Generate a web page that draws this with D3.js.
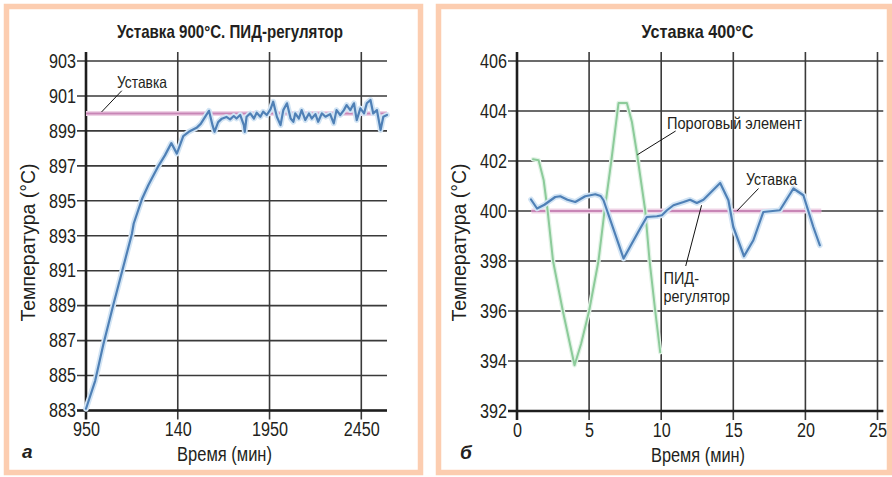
<!DOCTYPE html>
<html>
<head>
<meta charset="utf-8">
<script src="https://cdn.jsdelivr.net/npm/d3@7"></script>
<style>
  html, body { margin: 0; padding: 0; background: #ffffff; }
  svg { display: block; }
  text { font-family: "Liberation Sans", Arial, sans-serif; fill: #231f20; }
</style>
</head>
<body>
<svg id="chart" width="892" height="477"></svg>
<script>
// ---------- DATA ----------
// Panel a: PID controller, setpoint 900 °C
const titleA = "Уставка 900°С. ПИД-регулятор";
const xTickValuesA = [0, 1, 2, 3];
const xTickLabelsA = ["950", "140", "1950", "2450"];
const yTicksA = [883, 885, 887, 889, 891, 893, 895, 897, 899, 901, 903];
const setpointA = 900;
const setpointSpanA = [0, 3.28];
const pidA_x = [0.00, 0.10, 0.19, 0.30, 0.39, 0.50, 0.52, 0.61, 0.68, 0.79, 0.86, 0.93, 0.99, 1.06, 1.12, 1.21, 1.25, 1.31, 1.34, 1.38, 1.40, 1.44, 1.48, 1.53, 1.57, 1.61, 1.64, 1.68, 1.72, 1.73, 1.75, 1.79, 1.83, 1.86, 1.90, 1.93, 1.97, 2.01, 2.04, 2.08, 2.12, 2.15, 2.19, 2.23, 2.26, 2.28, 2.32, 2.35, 2.39, 2.43, 2.46, 2.50, 2.53, 2.57, 2.61, 2.66, 2.70, 2.73, 2.77, 2.81, 2.84, 2.88, 2.92, 2.95, 2.99, 3.03, 3.06, 3.10, 3.13, 3.17, 3.21, 3.24, 3.28];
const pidA_y = [883.1, 884.7, 886.8, 889.1, 890.9, 893.1, 893.7, 895.1, 895.9, 897.0, 897.6, 898.3, 897.7, 898.7, 898.95, 899.2, 899.4, 899.9, 900.15, 899.3, 898.95, 899.5, 899.7, 899.8, 899.66, 899.85, 899.71, 899.91, 899.33, 898.95, 899.81, 900.0, 899.71, 900.04, 899.81, 900.1, 899.91, 900.23, 900.67, 899.81, 899.33, 900.19, 900.58, 899.71, 899.52, 900.0, 899.71, 900.19, 899.62, 900.0, 899.71, 899.96, 899.52, 900.0, 899.81, 899.96, 899.43, 900.19, 899.91, 900.19, 900.48, 900.19, 900.58, 899.62, 900.29, 900.0, 900.58, 900.77, 900.0, 900.19, 899.05, 899.81, 899.91];

// Panel b: setpoint 400 °C
const titleB = "Уставка 400°С";
const xTicksB = [0, 5, 10, 15, 20, 25];
const yTicksB = [392, 394, 396, 398, 400, 402, 404, 406];
const setpointB = 400;
const setpointSpanB = [1.0, 21.1];
const thresh_t = [1.11, 1.50, 1.85, 2.12, 2.50, 3.18, 3.99, 4.45, 5.00, 5.65, 6.07, 6.54, 7.04, 7.62, 7.97, 8.32, 8.89, 9.19, 9.58, 9.93];
const thresh_T = [402.07, 402.03, 401.23, 400.03, 398.0, 396.0, 393.83, 394.7, 396.0, 398.0, 400.0, 402.0, 404.32, 404.32, 403.56, 402.3, 400.03, 398.03, 396.03, 394.35];
const pidB_t = [0.97, 1.39, 1.90, 2.65, 3.00, 3.50, 4.04, 4.73, 5.43, 5.80, 6.00, 7.39, 8.54, 9.00, 9.70, 10.05, 10.40, 10.85, 11.55, 12.00, 12.47, 12.93, 14.09, 14.66, 15.00, 15.74, 16.39, 17.08, 18.23, 19.17, 19.86, 20.55, 21.00];
const pidB_T = [400.46, 400.10, 400.25, 400.56, 400.59, 400.45, 400.36, 400.59, 400.67, 400.60, 400.43, 398.10, 399.30, 399.76, 399.79, 399.83, 400.03, 400.23, 400.36, 400.45, 400.32, 400.45, 401.12, 400.43, 399.36, 398.19, 398.83, 399.96, 400.03, 400.90, 400.63, 399.36, 398.63];

const yTitle = "Температура (°С)";
const xTitle = "Время (мин)";
const annSetpoint = "Уставка";
const annThreshold = "Пороговый элемент";
const annPid = ["ПИД-", "регулятор"];
const panelLetters = ["а", "б"];

// ---------- STYLE ----------
const C = {
  frame: "#fccdb0", grid: "#3a3a3a", axis: "#1e1e1e",
  blue: "#4f80b6", blueHalo: "#d2e4f4",
  green: "#8ccb9a", greenHalo: "#e2f3e6",
  pink: "#c886b6", pinkHalo: "#efd3e6", text: "#231f20"
};

const svg = d3.select("#chart");

// condensed-looking text: glyphs squeezed to a given width
function txt(g, o) {
  const t = g.append("text")
    .attr("x", o.x).attr("y", o.y)
    .attr("font-size", o.size)
    .attr("text-anchor", o.anchor || "start")
    .attr("fill", C.text)
    .text(o.s);
  if (o.weight) t.attr("font-weight", o.weight);
  if (o.style) t.attr("font-style", o.style);
  if (o.len) t.attr("textLength", o.len).attr("lengthAdjust", "spacingAndGlyphs");
  if (o.rotate) t.attr("transform", `rotate(${o.rotate},${o.x},${o.y})`);
  return t;
}

// panel frames
svg.append("rect").attr("x", 6.5).attr("y", 6.5).attr("width", 414).attr("height", 466)
  .attr("fill", "#fff").attr("stroke", C.frame).attr("stroke-width", 5.5);
svg.append("rect").attr("x", 438.5).attr("y", 6.5).attr("width", 451).attr("height", 466)
  .attr("fill", "#fff").attr("stroke", C.frame).attr("stroke-width", 5.5);

function drawLine(g, xs, ys, x, y, color, halo, w, hw) {
  const pts = xs.map((v, i) => [v, ys[i]]);
  const line = d3.line().x(d => x(d[0])).y(d => y(d[1]));
  g.append("path").attr("d", line(pts)).attr("fill", "none")
    .attr("stroke", halo).attr("stroke-width", w + hw).attr("stroke-linejoin", "round").attr("stroke-linecap", "round");
  g.append("path").attr("d", line(pts)).attr("fill", "none")
    .attr("stroke", color).attr("stroke-width", w).attr("stroke-linejoin", "round").attr("stroke-linecap", "round");
}

function panel(opts) {
  const { x, y, xTickVals, xTickFmt, yTickVals, gridRight, topY, bottomTick } = opts;
  const g = svg.append("g");
  const x0 = x.range()[0];
  const y0 = y.range()[0];
  // horizontal grid
  g.selectAll(".hg").data(yTickVals).join("line")
    .attr("x1", x0 - 9).attr("x2", gridRight)
    .attr("y1", d => y(d)).attr("y2", d => y(d))
    .attr("stroke", C.grid).attr("stroke-width", 1.6);
  // vertical grid
  g.selectAll(".vg").data(xTickVals.slice(1)).join("line")
    .attr("x1", d => x(d)).attr("x2", d => x(d))
    .attr("y1", topY).attr("y2", y0 + bottomTick)
    .attr("stroke", C.grid).attr("stroke-width", 1.6);
  // axes lines
  g.append("line").attr("x1", x0).attr("x2", x0).attr("y1", topY).attr("y2", y0 + bottomTick)
    .attr("stroke", C.axis).attr("stroke-width", 2.6);
  g.append("line").attr("x1", x0 - 9).attr("x2", gridRight).attr("y1", y0).attr("y2", y0)
    .attr("stroke", C.axis).attr("stroke-width", 2.6);
  // tick labels through d3 axes
  const ax = g.append("g").attr("transform", `translate(0,${y0 + 10})`)
    .call(d3.axisBottom(x).tickValues(xTickVals).tickFormat(xTickFmt).tickSize(0).tickPadding(2));
  const ay = g.append("g").attr("transform", `translate(${x0 - 10},0)`)
    .call(d3.axisLeft(y).tickValues(yTickVals).tickSize(0).tickPadding(0));
  [ax, ay].forEach(a => {
    a.select(".domain").remove();
    a.selectAll("text").attr("font-size", 19.5).attr("fill", C.text)
      .style("font-family", '"Liberation Sans", Arial, sans-serif')
      .attr("textLength", function () { return this.textContent.length * 9; })
      .attr("lengthAdjust", "spacingAndGlyphs");
  });
  return g;
}

// ----- Panel a -----
const xA = d3.scaleLinear().domain([0, 3.28]).range([86, 387]);
const yA = d3.scaleLinear().domain([883, 903]).range([410.5, 61]);
const gA = panel({ x: xA, y: yA, xTickVals: xTickValuesA, xTickFmt: (d, i) => xTickLabelsA[i],
  yTickVals: yTicksA, gridRight: 387, topY: 52, bottomTick: 9 });
// setpoint
gA.append("line").attr("x1", xA(setpointSpanA[0])).attr("x2", xA(setpointSpanA[1]))
  .attr("y1", yA(setpointA)).attr("y2", yA(setpointA))
  .attr("stroke", C.pinkHalo).attr("stroke-width", 5);
gA.append("line").attr("x1", xA(setpointSpanA[0])).attr("x2", xA(setpointSpanA[1]))
  .attr("y1", yA(setpointA)).attr("y2", yA(setpointA))
  .attr("stroke", C.pink).attr("stroke-width", 2);
drawLine(gA, pidA_x, pidA_y, xA, yA, C.blue, C.blueHalo, 2.2, 3.5);
// annotation
gA.append("line").attr("x1", xA(0.17)).attr("y1", yA(900) - 1.5).attr("x2", xA(0.39)).attr("y2", yA(901.3))
  .attr("stroke", "#111").attr("stroke-width", 1);
txt(gA, { x: 117, y: 87.5, s: annSetpoint, size: 16.5, len: 50 });
txt(gA, { x: 230, y: 37.5, s: titleA, size: 19, weight: "bold", anchor: "middle", len: 226 });
txt(gA, { x: 224.5, y: 461, s: xTitle, size: 20, anchor: "middle", len: 95 });
txt(gA, { x: 35, y: 242.5, s: yTitle, size: 19.5, anchor: "middle", len: 158, rotate: -90 });
txt(gA, { x: 22, y: 458, s: panelLetters[0], size: 19, weight: "bold", style: "italic" });

// ----- Panel b -----
const xB = d3.scaleLinear().domain([0, 25]).range([517, 877.5]);
const yB = d3.scaleLinear().domain([392, 406]).range([411, 61]);
const gB = panel({ x: xB, y: yB, xTickVals: xTicksB, xTickFmt: d3.format("d"),
  yTickVals: yTicksB, gridRight: xB(25.4), topY: 52, bottomTick: 9 });
gB.append("line").attr("x1", xB(setpointSpanB[0])).attr("x2", xB(setpointSpanB[1]))
  .attr("y1", yB(setpointB)).attr("y2", yB(setpointB))
  .attr("stroke", C.pinkHalo).attr("stroke-width", 5);
gB.append("line").attr("x1", xB(setpointSpanB[0])).attr("x2", xB(setpointSpanB[1]))
  .attr("y1", yB(setpointB)).attr("y2", yB(setpointB))
  .attr("stroke", C.pink).attr("stroke-width", 2);
drawLine(gB, thresh_t, thresh_T, xB, yB, C.green, C.greenHalo, 2, 2.5);
drawLine(gB, pidB_t, pidB_T, xB, yB, C.blue, C.blueHalo, 2.2, 3.5);
// annotations
gB.append("line").attr("x1", xB(11.0)).attr("y1", yB(403.2)).attr("x2", xB(8.35)).attr("y2", yB(402.25))
  .attr("stroke", "#111").attr("stroke-width", 1);
txt(gB, { x: 667, y: 128.5, s: annThreshold, size: 16.5, len: 135 });
gB.append("line").attr("x1", xB(16.75)).attr("y1", yB(400.9)).attr("x2", xB(15.25)).attr("y2", yB(400))
  .attr("stroke", "#111").attr("stroke-width", 1);
txt(gB, { x: 746, y: 185, s: annSetpoint, size: 16.5, len: 51 });
gB.append("line").attr("x1", xB(11.7)).attr("y1", yB(397.8)).attr("x2", xB(12.8)).attr("y2", yB(400.23))
  .attr("stroke", "#111").attr("stroke-width", 1);
txt(gB, { x: 663.5, y: 283.5, s: annPid[0], size: 16, len: 35.5 });
txt(gB, { x: 663.5, y: 301.5, s: annPid[1], size: 16, len: 66.5 });
txt(gB, { x: 697.5, y: 37.5, s: titleB, size: 19, weight: "bold", anchor: "middle", len: 112 });
txt(gB, { x: 698, y: 462, s: xTitle, size: 20, anchor: "middle", len: 94 });
txt(gB, { x: 465.5, y: 242.5, s: yTitle, size: 19.5, anchor: "middle", len: 158, rotate: -90 });
txt(gB, { x: 460, y: 459, s: panelLetters[1], size: 19, weight: "bold", style: "italic" });
</script>
</body>
</html>
